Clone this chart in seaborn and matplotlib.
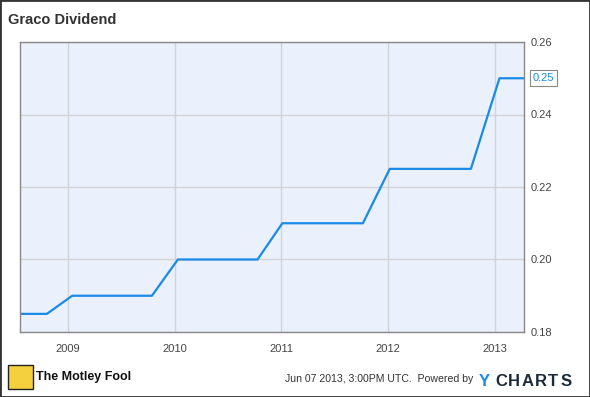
import matplotlib
matplotlib.use("Agg")
import matplotlib.pyplot as plt
import seaborn as sns
import pandas as pd
from matplotlib.patches import Rectangle

dates = ["2008-07-20", "2008-10-20", "2009-01-15", "2009-10-15", "2010-01-12",
         "2010-10-12", "2011-01-05", "2011-10-08", "2012-01-08", "2012-10-12",
         "2013-01-18", "2013-04-12"]
dividend = [0.185, 0.185, 0.19, 0.19, 0.20, 0.20, 0.21, 0.21, 0.225, 0.225, 0.25, 0.25]
yticks = [0.18, 0.20, 0.22, 0.24, 0.26]
years = ["2009", "2010", "2011", "2012", "2013"]

df = pd.DataFrame({"date": pd.to_datetime(dates), "dividend": dividend})

sns.set_theme(style="white")
plt.rcParams['font.family'] = ['Liberation Sans', 'DejaVu Sans']

W, H = 590, 397
fig = plt.figure(figsize=(W/100, H/100), dpi=100)
ax = fig.add_axes([20/W, 1-332/H, (524-20)/W, (332-42)/H])
ax.set_facecolor("#eaf0fc")

sns.lineplot(data=df, x="date", y="dividend", ax=ax, color="#1a8ae8", linewidth=1.6)

ax.set_xlim(pd.Timestamp("2008-07-20"), pd.Timestamp("2013-04-12"))
ax.set_ylim(0.18, 0.26)
ax.set_yticks(yticks)
ax.set_yticklabels([f"{v:.2f}" for v in yticks])
ax.set_xticks([pd.Timestamp(f"{y}-01-01") for y in years])
ax.set_xticklabels(years)
ax.yaxis.tick_right()
ax.grid(True, color="#d3d3d3", linewidth=1)
ax.tick_params(axis="x", length=0, labelsize=8, colors="#444444", pad=9)
ax.tick_params(axis="y", length=0, labelsize=8, colors="#444444", pad=5)
for s in ax.spines.values():
    s.set_color("#888888")
    s.set_linewidth(1)
ax.set_xlabel("")
ax.set_ylabel("")

# last value label
last = df["dividend"].iloc[-1]
ax.annotate(f"{last:.2f}", xy=(1.0, last), xycoords=("axes fraction", "data"),
            xytext=(6, 0), textcoords="offset points", va="center", ha="left",
            fontsize=8, color="#1a8ae8",
            bbox=dict(boxstyle="square,pad=0.25", fc="white", ec="#888888", lw=0.8))

# title
fig.text(8/W, 1-20/H, "Graco Dividend", fontsize=10.5, fontweight="bold",
         color="#333333", va="center", ha="left")

# footer: Motley Fool
fig.patches.append(Rectangle((8/W, 1-389/H), 25/W, 24/H, transform=fig.transFigure,
                             fc="#f4d03f", ec="#222222", lw=1))
fig.text(36/W, 1-377/H, "The Motley Fool", fontsize=9, fontweight="bold",
         color="#111111", va="center", ha="left")
fig.text(285/W, 1-379/H, "Jun 07 2013, 3:00PM UTC.  Powered by", fontsize=7.6,
         color="#333333", va="center", ha="left")
fig.text(479/W, 1-382/H, "Y", fontsize=12, fontweight="bold",
         color="#1a8ae8", va="center", ha="left")
for i, ch in enumerate("CHARTS"):
    fig.text((495 + i * 13.2)/W, 1-382/H, ch, fontsize=12, fontweight="bold",
             color="#1d2a3a", va="center", ha="left")

# outer frame
fig.patches.append(Rectangle((0, 0), 1, 1, transform=fig.transFigure, fill=False,
                             ec="#333333", lw=2))

fig.savefig("out.png", dpi=100)
